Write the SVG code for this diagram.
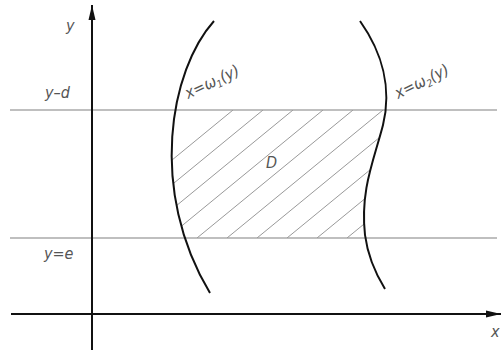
<svg xmlns="http://www.w3.org/2000/svg" width="502" height="350" viewBox="0 0 502 350">
<style>
.axis{stroke:#111;stroke-width:2;fill:none}
.curve{stroke:#111;stroke-width:2;fill:none}
.guide{stroke:#aaa;stroke-width:1.3;fill:none}
.hatch{stroke:#999;stroke-width:1;fill:none}
.lbl{font-family:"DejaVu Sans Condensed","DejaVu Sans",sans-serif;font-style:italic;fill:#555;font-size:16px}
.sub{font-size:10px}
</style>
<defs>
<marker id="arr" markerUnits="userSpaceOnUse" markerWidth="16" markerHeight="10" refX="15" refY="5" orient="auto">
<path d="M0,1.5 L15,5 L0,8.5 Z" fill="#111"/>
</marker>
<clipPath id="band"><rect x="0" y="110" width="502" height="128"/></clipPath>
<clipPath id="between"><path d="M214,21 C170,70 148,190 210,293 L385,289 C377,276 368,258 365,235 C360,190 374,160 383,125 C392,88 382,52 360,21 Z"/></clipPath>
</defs>
<g id="guides">
<line class="guide" x1="10" y1="110" x2="497" y2="110"/>
<line class="guide" x1="10" y1="238" x2="497" y2="238"/>
</g>
<g id="region-D">
<g clip-path="url(#band)"><g clip-path="url(#between)">
<path class="hatch" d="M77,238 L233,110 M107,238 L263,110 M137,238 L293,110 M167,238 L323,110 M197,238 L353,110 M227,238 L383,110 M257,238 L413,110 M287,238 L443,110 M317,238 L473,110 M347,238 L503,110 M377,238 L533,110"/>
</g></g>
<text class="lbl" x="266" y="168">D</text>
</g>
<g id="axes">
<line class="axis" x1="92" y1="350" x2="92" y2="5" marker-end="url(#arr)"/>
<line class="axis" x1="11" y1="314" x2="501" y2="314" marker-end="url(#arr)"/>
<text class="lbl" x="66" y="31" font-size="18">y</text>
<text class="lbl" x="491" y="337">x</text>
<text class="lbl" x="45" y="98">y–d</text>
<text class="lbl" x="44" y="259">y=e</text>
</g>
<g id="curve-omega1">
<path class="curve" d="M214,21 C170,70 148,190 210,293"/>
<text class="lbl" transform="translate(188,99) rotate(-25)" font-size="14">x=ω<tspan class="sub" dy="3">1</tspan><tspan dy="-3">(y)</tspan></text>
</g>
<g id="curve-omega2">
<path class="curve" d="M360,21 C382,52 392,88 383,125 C374,160 360,190 365,235 C368,258 377,276 385,289"/>
<text class="lbl" transform="translate(398,99) rotate(-26)" font-size="14">x=ω<tspan class="sub" dy="3">2</tspan><tspan dy="-3">(y)</tspan></text>
</g>
</svg>
